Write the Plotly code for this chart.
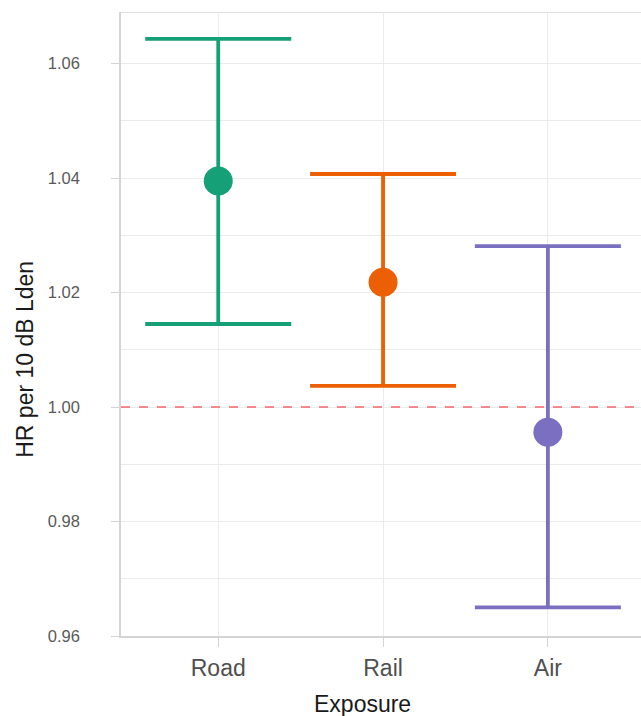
import plotly.graph_objects as go

categories = ["Road", "Rail", "Air"]
hr = [1.0395, 1.0218, 0.9956]
ci_low = [1.0145, 1.0037, 0.9650]
ci_high = [1.0643, 1.0407, 1.0281]
colors = ["#16a077", "#ec5f04", "#7a6fc0"]
y_ticks = [0.96, 0.98, 1.00, 1.02, 1.04, 1.06]
y_range = [0.96, 1.069]
ref_value = 1.00

fig = go.Figure()
for i, cat in enumerate(categories):
    fig.add_trace(go.Scatter(
        x=[i + 1], y=[hr[i]], mode="markers",
        marker=dict(size=29, color=colors[i]),
        error_y=dict(type="data", symmetric=False,
                     array=[ci_high[i] - hr[i]], arrayminus=[hr[i] - ci_low[i]],
                     color=colors[i], thickness=3.8, width=73),
        showlegend=False, name=cat,
    ))

fig.add_shape(type="line", xref="paper", x0=0, x1=1, yref="y", y0=ref_value, y1=ref_value,
              line=dict(color="rgba(245,85,95,0.9)", width=1.6, dash="9px,9px"), layer="above")
fig.add_shape(type="line", xref="paper", x0=0, x1=1, yref="y", y0=y_range[1], y1=y_range[1],
              line=dict(color="#d6d6d6", width=1.5), layer="below")

fig.add_annotation(text="HR per 10 dB Lden", xref="paper", yref="paper",
                   x=-0.185, y=0.444, textangle=-90, showarrow=False,
                   xanchor="center", yanchor="middle",
                   font=dict(size=23, color="#1a1a1a"))
fig.add_annotation(text="Exposure", xref="paper", yref="paper",
                   x=0.465, y=-0.109, showarrow=False,
                   xanchor="center", yanchor="middle",
                   font=dict(size=23, color="#1a1a1a"))

fig.update_layout(
    width=641, height=716,
    margin=dict(l=121, r=0, t=12, b=80),
    paper_bgcolor="white", plot_bgcolor="white",
    font=dict(family="Liberation Sans, Arial, sans-serif"),
    xaxis=dict(
        range=[0.41, 3.565], tickmode="array", tickvals=[1, 2, 3], ticktext=categories,
        showgrid=True, gridcolor="#ebebeb", gridwidth=1.2,
        showline=True, linecolor="#d4d4d4", linewidth=1.5,
        ticks="outside", ticklen=9, tickcolor="#d4d4d4", tickwidth=1.2,
        ticklabelstandoff=2,
        tickfont=dict(size=23, color="#4f4f4f"), zeroline=False,
    ),
    yaxis=dict(
        range=y_range, tickmode="array", tickvals=y_ticks,
        ticktext=[f"{v:.2f}" for v in y_ticks],
        showgrid=True, gridcolor="#ebebeb", gridwidth=1.2,
        minor=dict(dtick=0.01, tick0=0.96, showgrid=True, gridcolor="#ebebeb", gridwidth=1.2),
        showline=True, linecolor="#d4d4d4", linewidth=1.5,
        ticks="outside", ticklen=8, tickcolor="#d4d4d4", tickwidth=1.2,
        ticklabelstandoff=28,
        tickfont=dict(size=16.5, color="#595959"), zeroline=False,
    ),
)

fig.write_html("out.html")
